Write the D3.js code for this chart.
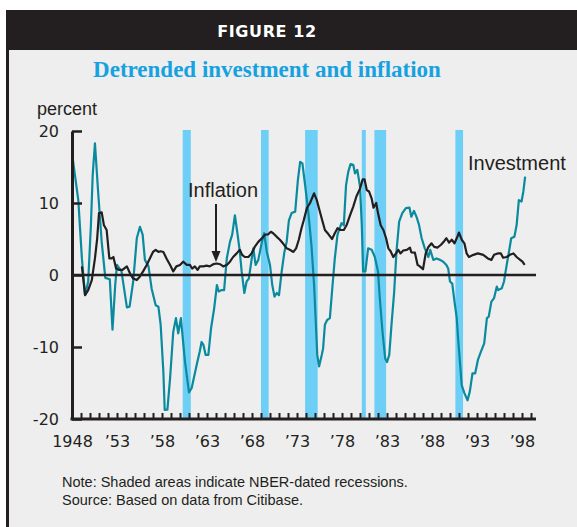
<!DOCTYPE html>
<html>
<head>
<meta charset="utf-8">
<title>Detrended investment and inflation</title>
<script src="https://d3js.org/d3.v7.min.js"></script>
<style>
  body { margin: 0; background: #fff; }
  text { font-family: "Liberation Sans", Arial, sans-serif; fill: #231f20; }
  .tick text { font-family: "DejaVu Sans", sans-serif; font-size: 16px; }
</style>
</head>
<body>
<svg width="577" height="527"></svg>
<script>
// recession periods (NBER), in decimal years
var recessions = [[1960.3, 1961.2], [1969.0, 1969.85], [1973.9, 1975.3],
                  [1980.2, 1980.65], [1981.6, 1982.9], [1990.6, 1991.45]];

// detrended investment, percent
var investment = [
  [1948.1,16.0],[1948.7,10.4],[1949.1,2.3],[1949.45,-2.8],[1949.8,-0.9],[1950.1,6.9],[1950.3,13.9],
  [1950.55,18.3],[1950.9,11.6],[1951.3,4.6],[1951.7,-0.4],[1952.2,-0.6],[1952.5,-7.6],[1952.8,-1.4],
  [1953.0,1.4],[1953.5,0.5],[1954.1,-4.5],[1954.4,-4.4],[1954.8,-0.9],[1955.2,5.1],[1955.55,6.7],
  [1955.85,5.6],[1956.1,2.1],[1956.5,1.2],[1956.85,-1.9],[1957.3,-4.2],[1957.6,-4.4],[1957.85,-6.9],
  [1958.15,-13.4],[1958.3,-18.75],[1958.6,-18.7],[1958.9,-14.3],[1959.25,-7.9],[1959.55,-6.0],
  [1959.8,-8.1],[1960.1,-6.0],[1960.55,-12.0],[1961.0,-16.3],[1961.3,-15.7],[1961.85,-12.5],
  [1962.2,-10.6],[1962.4,-9.3],[1962.6,-9.7],[1962.85,-11.1],[1963.15,-11.1],[1963.45,-7.4],
  [1963.8,-4.6],[1964.1,-1.4],[1964.3,-2.3],[1964.6,-2.1],[1964.9,-2.1],[1965.2,2.3],[1965.55,4.6],
  [1965.8,5.6],[1966.1,8.3],[1966.4,5.6],[1966.65,3.2],[1966.85,0.5],[1967.15,-2.5],[1967.4,-0.9],
  [1967.65,-0.5],[1967.95,2.1],[1968.15,3.7],[1968.4,1.4],[1968.7,2.1],[1969.1,4.6],[1969.35,5.8],
  [1969.65,3.2],[1970.0,1.4],[1970.25,-1.4],[1970.5,-3.0],[1970.75,-2.5],[1971.0,-2.8],[1971.3,0.5],
  [1971.6,3.2],[1971.85,4.6],[1972.1,7.6],[1972.4,8.6],[1972.8,8.8],[1973.1,13.2],[1973.35,15.7],
  [1973.6,15.5],[1973.9,12.5],[1974.25,8.8],[1974.6,4.2],[1974.9,-1.4],[1975.1,-6.9],[1975.25,-11.1],
  [1975.45,-12.7],[1975.75,-11.1],[1975.9,-10.2],[1976.1,-6.9],[1976.35,-6.25],[1976.65,-6.0],
  [1976.95,-1.4],[1977.2,2.3],[1977.5,5.6],[1977.8,6.7],[1977.95,7.2],[1978.2,6.9],[1978.45,12.5],
  [1978.7,14.35],[1978.95,15.4],[1979.25,15.3],[1979.45,14.1],[1979.7,14.6],[1980.0,12.3],
  [1980.2,6.9],[1980.35,0.5],[1980.6,0.5],[1980.9,3.7],[1981.3,3.5],[1981.65,2.5],[1982.0,0.5],
  [1982.2,-3.2],[1982.5,-7.9],[1982.8,-11.6],[1983.0,-12.1],[1983.25,-11.1],[1983.5,-6.9],
  [1983.8,-2.3],[1984.05,3.2],[1984.35,7.4],[1984.7,8.6],[1985.1,9.3],[1985.5,9.35],[1985.7,8.1],
  [1986.0,8.9],[1986.3,8.0],[1986.55,7.0],[1986.85,5.1],[1987.2,3.7],[1987.6,2.5],[1987.8,3.5],
  [1988.15,2.1],[1988.5,2.3],[1988.9,2.1],[1989.25,1.85],[1989.6,1.4],[1989.8,0.9],[1990.0,-0.9],
  [1990.25,-1.2],[1990.5,-3.7],[1990.75,-6.0],[1990.9,-8.8],[1991.1,-12.0],[1991.3,-15.3],
  [1991.6,-16.4],[1991.95,-17.4],[1992.2,-16.2],[1992.5,-13.65],[1992.8,-13.65],[1993.1,-11.8],
  [1993.45,-10.6],[1993.8,-9.5],[1994.1,-6.0],[1994.3,-5.8],[1994.6,-3.7],[1994.9,-3.2],
  [1995.2,-1.6],[1995.35,-2.1],[1995.75,-1.85],[1996.0,-0.9],[1996.3,1.4],[1996.55,3.2],
  [1996.8,5.1],[1997.15,5.3],[1997.4,6.9],[1997.65,10.4],[1997.95,10.2],[1998.15,11.6],[1998.35,13.65]
];

// inflation, percent
var inflation = [
  [1949.1,1.2],[1949.45,-2.8],[1949.8,-2.1],[1950.2,-0.7],[1950.55,2.3],[1950.8,5.1],[1951.0,8.6],
  [1951.3,8.7],[1951.55,6.9],[1951.85,6.25],[1952.15,2.3],[1952.4,2.3],[1952.6,2.5],[1952.9,0.9],
  [1953.25,0.7],[1953.6,0.7],[1954.1,1.2],[1954.45,0.2],[1954.8,-0.5],[1955.2,-0.7],[1955.55,-0.2],
  [1955.9,0.5],[1956.3,1.4],[1956.65,2.3],[1957.0,3.2],[1957.3,3.5],[1957.6,3.2],[1957.85,3.3],
  [1958.15,3.2],[1958.5,2.3],[1958.9,1.4],[1959.25,0.5],[1959.6,1.2],[1960.0,1.4],[1960.35,1.85],
  [1960.75,1.4],[1961.1,1.4],[1961.35,0.9],[1961.65,1.2],[1961.95,0.7],[1962.2,1.2],[1962.6,1.2],
  [1962.95,1.3],[1963.3,1.2],[1963.7,1.5],[1964.1,1.6],[1964.45,1.5],[1964.8,1.2],[1965.2,1.4],
  [1965.55,1.85],[1965.9,2.5],[1966.3,3.0],[1966.65,3.5],[1966.9,2.8],[1967.2,2.5],[1967.6,2.5],
  [1967.95,3.0],[1968.3,3.9],[1968.7,4.6],[1969.1,5.1],[1969.45,5.6],[1969.8,5.65],[1970.1,6.0],
  [1970.35,5.8],[1970.75,5.3],[1971.1,4.9],[1971.5,4.3],[1971.85,3.7],[1972.2,3.5],[1972.6,3.2],
  [1972.9,3.7],[1973.2,4.9],[1973.5,6.5],[1973.75,7.6],[1974.1,9.3],[1974.45,10.0],[1974.9,11.35],
  [1975.2,10.4],[1975.5,9.0],[1975.8,7.6],[1976.1,6.25],[1976.5,5.65],[1976.9,5.0],[1977.2,5.8],
  [1977.5,6.5],[1977.85,6.25],[1978.2,6.25],[1978.5,6.9],[1978.9,8.3],[1979.25,9.5],[1979.6,10.9],
  [1980.0,12.0],[1980.3,13.3],[1980.5,13.3],[1980.75,11.8],[1981.0,11.6],[1981.3,10.6],[1981.5,9.35],
  [1981.8,10.0],[1982.0,8.6],[1982.3,6.9],[1982.6,6.25],[1982.9,5.1],[1983.15,3.7],[1983.4,3.3],
  [1983.7,2.5],[1984.0,3.0],[1984.25,3.5],[1984.5,3.0],[1984.8,3.4],[1985.2,3.5],[1985.55,3.8],
  [1985.7,3.15],[1986.1,3.1],[1986.4,1.4],[1986.65,1.2],[1987.0,0.8],[1987.3,3.0],[1987.6,3.9],
  [1987.95,4.4],[1988.25,3.9],[1988.6,3.8],[1989.0,4.2],[1989.35,4.7],[1989.6,5.1],[1989.9,4.5],
  [1990.2,4.9],[1990.5,4.4],[1990.75,5.1],[1991.0,5.9],[1991.3,4.9],[1991.6,4.4],[1991.85,3.0],
  [1992.1,2.5],[1992.6,2.8],[1993.1,3.0],[1993.7,2.8],[1994.2,2.3],[1994.6,2.1],[1994.9,2.8],
  [1995.3,3.0],[1995.65,3.0],[1995.9,2.4],[1996.3,2.5],[1996.65,2.8],[1997.05,3.0],[1997.4,2.5],
  [1997.8,2.1],[1998.05,1.85],[1998.3,1.4]
];

var yTicks = [-20, -10, 0, 10, 20];
var xLabels = {1948: "1948", 1953: "’53", 1958: "’58", 1963: "’63", 1968: "’68",
               1973: "’73", 1978: "’78", 1983: "’83", 1988: "’88", 1993: "’93", 1998: "’98"};

var svg = d3.select("svg");

// frame
svg.append("rect").attr("x", 6).attr("y", 10).attr("width", 571).attr("height", 517).attr("fill", "#eeeeee");
svg.append("rect").attr("x", 6).attr("y", 10).attr("width", 571).attr("height", 40).attr("fill", "#231f20");
svg.append("rect").attr("x", 6).attr("y", 10).attr("width", 3).attr("height", 517).attr("fill", "#231f20");

svg.append("text").attr("x", 267).attr("y", 37).attr("text-anchor", "middle")
  .style("font-family", "DejaVu Sans").style("font-weight", "bold").style("font-size", "16px")
  .style("letter-spacing", "0.6px").style("fill", "#fff").text("FIGURE 12");

svg.append("text").attr("x", 267).attr("y", 77).attr("text-anchor", "middle")
  .style("font-family", "Liberation Serif").style("font-weight", "bold").style("font-size", "23px")
  .style("fill", "#16a2e0").text("Detrended investment and inflation");

var x = d3.scaleLinear().domain([1948, 1999.5]).range([72, 535.5]);
var y = d3.scaleLinear().domain([-20, 20]).range([419, 131]);

// recession shading
svg.selectAll("rect.rec").data(recessions).enter().append("rect")
  .attr("class", "rec")
  .attr("x", function(d) { return x(d[0]); })
  .attr("width", function(d) { return x(d[1]) - x(d[0]); })
  .attr("y", y(20) - 1)
  .attr("height", y(-20) - y(20) + 1)
  .attr("fill", "#6ecff6");

var line = d3.line().x(function(d) { return x(d[0]); }).y(function(d) { return y(d[1]); });

svg.append("path").datum(investment).attr("d", line)
  .attr("fill", "none").attr("stroke", "#0a8a9f").attr("stroke-width", 2.2).attr("stroke-linejoin", "round");
svg.append("path").datum(inflation).attr("d", line)
  .attr("fill", "none").attr("stroke", "#231f20").attr("stroke-width", 2.2).attr("stroke-linejoin", "round");

// zero line
svg.append("line").attr("x1", x(1948)).attr("x2", 536).attr("y1", y(0)).attr("y2", y(0))
  .attr("stroke", "#231f20").attr("stroke-width", 2.5);

// axes
var yAxis = svg.append("g").attr("transform", "translate(" + x(1948) + ",0)")
  .call(d3.axisLeft(y).tickValues(yTicks).tickSizeInner(-10).tickSizeOuter(0).tickPadding(13)
    .tickFormat(function(d) { return String(d); }));
yAxis.select(".domain").attr("stroke", "#231f20").attr("stroke-width", 3);
yAxis.selectAll(".tick line").attr("stroke", "#231f20").attr("stroke-width", 2.5);
yAxis.selectAll(".tick text").attr("fill", "#231f20");

var xAxis = svg.append("g").attr("transform", "translate(0," + y(-20) + ")")
  .call(d3.axisBottom(x).tickValues(d3.range(1948, 2000)).tickSizeInner(-6).tickSizeOuter(0).tickPadding(17)
    .tickFormat(function(d) { return xLabels[d] || ""; }));
xAxis.select(".domain").attr("d", "M" + (x(1948) - 1.5) + ",0H536").attr("stroke", "#231f20").attr("stroke-width", 3);
xAxis.selectAll(".tick line").attr("stroke", "#231f20").attr("stroke-width", 2);
xAxis.selectAll(".tick text").attr("fill", "#231f20");

svg.append("text").attr("x", 37).attr("y", 115).style("font-size", "18px").text("percent");

// annotations
svg.append("text").attr("x", 188).attr("y", 197).style("font-size", "20px").text("Inflation");
svg.append("line").attr("x1", 216).attr("x2", 216).attr("y1", 204).attr("y2", 254)
  .attr("stroke", "#231f20").attr("stroke-width", 2);
svg.append("path").attr("d", "M216,262L211.5,251L220.5,251Z").attr("fill", "#231f20");
svg.append("text").attr("x", 468).attr("y", 170).style("font-size", "20px").text("Investment");

svg.append("text").attr("x", 62).attr("y", 487).style("font-size", "14.5px")
  .text("Note: Shaded areas indicate NBER-dated recessions.");
svg.append("text").attr("x", 62).attr("y", 505).style("font-size", "14.5px")
  .text("Source: Based on data from Citibase.");
</script>
</body>
</html>
